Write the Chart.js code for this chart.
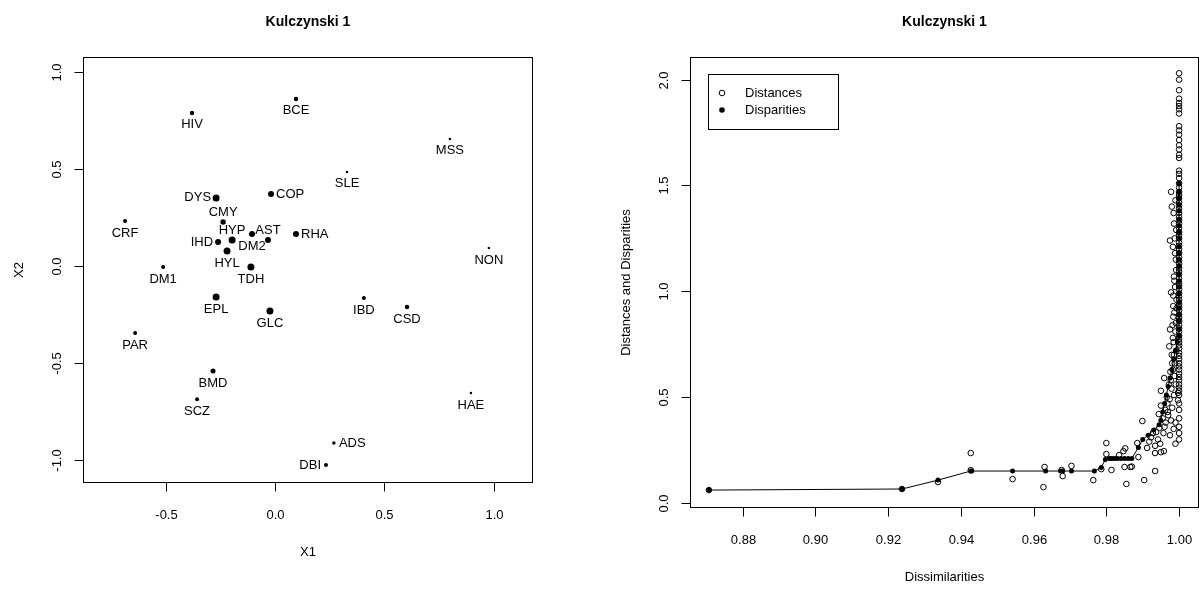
<!DOCTYPE html>
<html>
<head>
<meta charset="utf-8">
<script src="https://cdn.jsdelivr.net/npm/chart.js@4.4.1/dist/chart.umd.min.js"></script>
<style>
  body { margin: 0; background: #fff; }
  #wrap { position: relative; width: 1203px; height: 590px; }
  canvas { position: absolute; top: 0; }
</style>
</head>
<body>
<div id="wrap">
  <canvas id="mds" width="601" height="590" style="left:0"></canvas>
  <canvas id="shepard" width="602" height="590" style="left:601px"></canvas>
</div>
<script>
// MDS configuration (left panel)
const diseases = ['HIV', 'BCE', 'MSS', 'SLE', 'COP', 'RHA', 'NON', 'DYS', 'CMY', 'CRF',
                  'DM2', 'AST', 'HYP', 'IHD', 'HYL', 'TDH', 'DM1', 'EPL', 'GLC', 'PAR',
                  'BMD', 'SCZ', 'IBD', 'CSD', 'HAE', 'ADS', 'DBI'];
const x1 = [-0.379, 0.096, 0.799, 0.329, -0.018, 0.096, 0.977, -0.269, -0.237, -0.685,
            -0.105, -0.032, -0.196, -0.260, -0.219, -0.110, -0.511, -0.269, -0.023, -0.639,
            -0.283, -0.356, 0.406, 0.603, 0.895, 0.269, 0.233];
const x2 = [0.789, 0.861, 0.655, 0.485, 0.371, 0.165, 0.093, 0.351, 0.227, 0.232,
            0.165, 0.134, 0.134, 0.124, 0.077, -0.005, -0.005, -0.160, -0.232, -0.345,
            -0.541, -0.686, -0.165, -0.211, -0.655, -0.912, -1.026];
// relative symbol size (cex)
const pointWeight = [0.9, 0.9, 0.5, 0.5, 1.2, 1.2, 0.5, 1.4, 1.1, 0.8,
                     1.2, 1.2, 1.4, 1.2, 1.4, 1.4, 0.8, 1.4, 1.4, 0.8,
                     1.0, 0.8, 0.8, 0.9, 0.5, 0.7, 0.8];
// label side, as in R text(pos=): 1 below, 2 left, 3 above, 4 right
const labelPos = [1, 1, 1, 1, 4, 4, 1, 2, 3, 1,
                  1, 3, 3, 2, 1, 1, 1, 1, 1, 1,
                  1, 1, 1, 1, 1, 4, 2];
const mdsXTicks = [-0.5, 0.0, 0.5, 1.0];
const mdsYTicks = [-1.0, -0.5, 0.0, 0.5, 1.0];

// Shepard diagram (right panel)
const distDissim = [0.8707, 0.9238, 0.9337, 0.9427, 0.9427, 0.9542, 0.9630, 0.9627, 0.9677, 0.9680,
                    0.9704, 0.9764, 0.9786, 0.9800, 0.9800, 0.9814, 0.9835, 0.9847, 0.9850, 0.9855,
                    0.9866, 0.9870, 0.9852, 0.9888, 0.9885, 0.9899, 0.9904, 0.9912, 0.9923, 0.9934,
                    0.9934, 0.9934, 0.9937, 0.9950, 0.9950, 0.9950, 0.9958, 0.9960, 0.9959, 0.9970,
                    0.9990, 0.9990, 0.9997, 0.9997, 0.9973, 0.9975, 0.9984, 0.9984, 0.9978, 0.9975,
                    0.9980, 0.9978, 0.9942, 0.9946, 0.9955, 0.9962, 0.9966, 0.9972, 0.9976, 0.9981,
                    0.9986, 0.9968, 0.9979, 0.9944, 0.9928, 0.9918, 0.9988, 0.9983, 0.9987, 0.9989,
                    0.9986, 0.9991, 0.9993, 0.9992,
                    0.9990, 0.9985, 0.9992, 0.9988, 0.9983, 0.9991, 0.9986, 0.9989, 0.9984, 0.9993,
                    0.9987, 0.9982, 0.9990, 0.9985, 0.9992, 0.9980, 0.9988, 0.9983, 0.9977, 0.9991,
                    0.9986, 0.9974, 0.9981, 0.9969, 0.9978, 0.9963, 0.9985, 0.9957, 0.9975, 0.9948];
const distances = [0.061, 0.066, 0.099, 0.236, 0.155, 0.113, 0.170, 0.075, 0.156, 0.127,
                   0.175, 0.108, 0.160, 0.283, 0.231, 0.156, 0.226, 0.245, 0.170, 0.090,
                   0.170, 0.172, 0.258, 0.217, 0.283, 0.387, 0.108, 0.260, 0.310, 0.151,
                   0.236, 0.270, 0.335, 0.240, 0.460, 0.530, 0.245, 0.360, 0.590, 0.415,
                   0.280, 0.380, 0.485, 0.520, 0.740, 0.820, 0.880, 0.930, 0.995, 1.240,
                   1.400, 1.470, 0.300, 0.355, 0.400, 0.440, 0.500, 0.560, 0.620, 0.660,
                   0.700, 0.470, 0.540, 0.420, 0.330, 0.290, 0.600, 0.780, 1.050, 1.180,
                   1.320, 0.850, 0.960, 1.100,
                   1.43, 1.37, 1.29, 1.25, 1.21, 1.15, 1.07, 1.02, 0.98, 0.92,
                   0.90, 0.84, 0.81, 0.76, 0.72, 0.70, 0.66, 0.63, 0.58, 0.56,
                   0.51, 0.49, 0.45, 0.43, 0.39, 0.38, 0.35, 0.33, 0.32, 0.28];
// distances of the pairs whose dissimilarity is 1.00
const distancesAtOne = [2.03, 2.00, 1.95, 1.91, 1.89, 1.875, 1.86, 1.84, 1.78, 1.76,
                        1.74, 1.715, 1.69, 1.67, 1.645, 1.63, 1.57, 1.555, 1.535, 1.51,
                        1.49, 1.47, 1.455, 1.44, 1.42, 1.405, 1.39, 1.37, 1.35, 1.335,
                        1.32, 1.30, 1.28, 1.265, 1.25, 1.23, 1.215, 1.20, 1.18, 1.16,
                        1.145, 1.13, 1.11, 1.095, 1.08, 1.06, 1.04, 1.025, 1.01, 0.99,
                        0.975, 0.96, 0.94, 0.925, 0.91, 0.89, 0.875, 0.86, 0.84, 0.825,
                        0.81, 0.79, 0.775, 0.76, 0.745, 0.73, 0.71, 0.695, 0.68, 0.66,
                        0.645, 0.63, 0.61, 0.595, 0.58, 0.56, 0.545, 0.53, 0.51, 0.47,
                        0.44, 0.40, 0.36, 0.33, 0.30];
const dispDissim = [0.8707, 0.9238, 0.9337, 0.9427, 0.9430, 0.9542, 0.9633, 0.9674, 0.9680, 0.9704,
                    0.9767, 0.9786, 0.9797, 0.9808, 0.9815, 0.9822, 0.9830, 0.9840, 0.9850, 0.9860,
                    0.9870, 0.9888, 0.9900, 0.9915, 0.9930, 0.9945, 0.9950, 0.9955, 0.9960, 0.9965,
                    0.9970, 0.9975, 0.9980, 0.9985, 0.9990, 0.9995];
const disparities = [0.061, 0.066, 0.108, 0.151, 0.151, 0.151, 0.151, 0.151, 0.151, 0.151,
                     0.151, 0.168, 0.205, 0.210, 0.210, 0.210, 0.210, 0.210, 0.210, 0.210,
                     0.210, 0.262, 0.300, 0.320, 0.345, 0.370, 0.390, 0.430, 0.470, 0.510,
                     0.550, 0.590, 0.630, 0.680, 0.720, 0.760];
const disparitiesAtOne = [0.79, 0.82, 0.86, 0.89, 0.92, 0.95, 0.99, 1.02, 1.05, 1.08,
                          1.12, 1.15, 1.18, 1.21, 1.25, 1.28, 1.31, 1.34, 1.38, 1.41,
                          1.44, 1.47, 1.51];
const shepXTicks = [0.88, 0.90, 0.92, 0.94, 0.96, 0.98, 1.00];
const shepYTicks = [0.0, 0.5, 1.0, 1.5, 2.0];

const FONT = '"Liberation Sans", Arial, Helvetica, sans-serif';

// R-like box, ticks, tick labels and titles
function rFrame(o) {
    return {
        id: 'rFrame',
        afterDraw(chart) {
            const { ctx, chartArea: a, scales } = chart;
            const L = Math.round(a.left) + 0.5, R = Math.round(a.right) + 0.5;
            const T = Math.round(a.top) + 0.5, B = Math.round(a.bottom) + 0.5;
            ctx.save();
            ctx.strokeStyle = '#000';
            ctx.fillStyle = '#000';
            ctx.lineWidth = 1;
            ctx.strokeRect(L, T, R - L, B - T);
            ctx.font = '13px ' + FONT;
            ctx.textAlign = 'center';
            ctx.textBaseline = 'middle';
            o.xTicks.forEach(v => {
                const px = Math.round(scales.x.getPixelForValue(v)) + 0.5;
                ctx.beginPath(); ctx.moveTo(px, B); ctx.lineTo(px, B + 9); ctx.stroke();
                ctx.fillText(v.toFixed(o.xDigits), px, B + 33);
            });
            o.yTicks.forEach(v => {
                const py = Math.round(scales.y.getPixelForValue(v)) + 0.5;
                ctx.beginPath(); ctx.moveTo(L - 9, py); ctx.lineTo(L, py); ctx.stroke();
                ctx.save();
                ctx.translate(L - 26, py);
                ctx.rotate(-Math.PI / 2);
                ctx.fillText(v.toFixed(1), 0, 0);
                ctx.restore();
            });
            ctx.fillText(o.xTitle, (L + R) / 2, B + 70);
            ctx.save();
            ctx.translate(L - 64, (T + B) / 2);
            ctx.rotate(-Math.PI / 2);
            ctx.fillText(o.yTitle, 0, 0);
            ctx.restore();
            ctx.font = 'bold 14px ' + FONT;
            ctx.fillText(o.title, (L + R) / 2, 22);
            ctx.restore();
        }
    };
}

const pointLabels = {
    id: 'pointLabels',
    afterDatasetsDraw(chart) {
        const ctx = chart.ctx;
        const meta = chart.getDatasetMeta(0);
        ctx.save();
        ctx.font = '13px ' + FONT;
        ctx.fillStyle = '#000';
        ctx.textBaseline = 'middle';
        meta.data.forEach((pt, i) => {
            let tx = pt.x, ty = pt.y;
            ctx.textAlign = 'center';
            if (labelPos[i] === 1) ty += 12;
            else if (labelPos[i] === 3) ty -= 10;
            else if (labelPos[i] === 2) { tx -= 5; ctx.textAlign = 'right'; }
            else { tx += 5; ctx.textAlign = 'left'; }
            ctx.fillText(diseases[i], tx, ty);
        });
        ctx.restore();
    }
};

const shepLegend = {
    id: 'shepLegend',
    afterDraw(chart) {
        const ctx = chart.ctx;
        ctx.save();
        ctx.strokeStyle = '#000';
        ctx.fillStyle = '#000';
        ctx.lineWidth = 1;
        ctx.strokeRect(107.5, 74.5, 130, 55);
        ctx.beginPath(); ctx.arc(121, 93, 2.8, 0, Math.PI * 2); ctx.stroke();
        ctx.beginPath(); ctx.arc(121, 110, 2.8, 0, Math.PI * 2); ctx.fill();
        ctx.font = '13px ' + FONT;
        ctx.textAlign = 'left';
        ctx.textBaseline = 'middle';
        ctx.fillText('Distances', 144, 93);
        ctx.fillText('Disparities', 144, 110);
        ctx.restore();
    }
};

function initializeMds() {
    const ctx = document.getElementById('mds').getContext('2d');
    new Chart(ctx, {
        type: 'scatter',
        data: {
            datasets: [{
                data: x1.map((v, i) => ({ x: v, y: x2[i] })),
                pointRadius: pointWeight.map(w => w * 2.5),
                backgroundColor: '#000',
                borderWidth: 0
            }]
        },
        options: {
            responsive: false,
            animation: false,
            devicePixelRatio: 1,
            layout: { padding: { left: 83, right: 69, top: 57, bottom: 108 } },
            scales: {
                x: { type: 'linear', display: false, min: -0.877, max: 1.174 },
                y: { type: 'linear', display: false, min: -1.113, max: 1.077 }
            },
            plugins: { legend: { display: false }, tooltip: { enabled: false } }
        },
        plugins: [rFrame({
            xTicks: mdsXTicks, yTicks: mdsYTicks, xDigits: 1,
            xTitle: 'X1', yTitle: 'X2', title: 'Kulczynski 1'
        }), pointLabels]
    });
}

function initializeShepard() {
    const ctx = document.getElementById('shepard').getContext('2d');
    const distPts = distDissim.map((v, i) => ({ x: v, y: distances[i] }))
        .concat(distancesAtOne.map(d => ({ x: 1.0, y: d })));
    const dispPts = dispDissim.map((v, i) => ({ x: v, y: disparities[i] }))
        .concat(disparitiesAtOne.map(d => ({ x: 1.0, y: d })));
    new Chart(ctx, {
        type: 'scatter',
        data: {
            datasets: [
                {
                    label: 'Disparities',
                    data: dispPts,
                    showLine: true,
                    borderColor: '#000',
                    borderWidth: 1,
                    pointRadius: 2.5,
                    pointBackgroundColor: '#000',
                    pointBorderWidth: 0,
                    order: 0
                },
                {
                    label: 'Distances',
                    data: distPts,
                    pointRadius: 2.8,
                    pointBackgroundColor: 'rgba(0,0,0,0)',
                    pointBorderColor: '#000',
                    pointBorderWidth: 1,
                    order: 1
                }
            ]
        },
        options: {
            responsive: false,
            animation: false,
            devicePixelRatio: 1,
            layout: { padding: { left: 89, right: 4, top: 57, bottom: 83 } },
            scales: {
                x: { type: 'linear', display: false, min: 0.8655, max: 1.0052 },
                y: { type: 'linear', display: false, min: -0.019, max: 2.107 }
            },
            plugins: { legend: { display: false }, tooltip: { enabled: false } }
        },
        plugins: [rFrame({
            xTicks: shepXTicks, yTicks: shepYTicks, xDigits: 2,
            xTitle: 'Dissimilarities', yTitle: 'Distances and Disparities', title: 'Kulczynski 1'
        }), shepLegend]
    });
}

initializeMds();
initializeShepard();
</script>
</body>
</html>
